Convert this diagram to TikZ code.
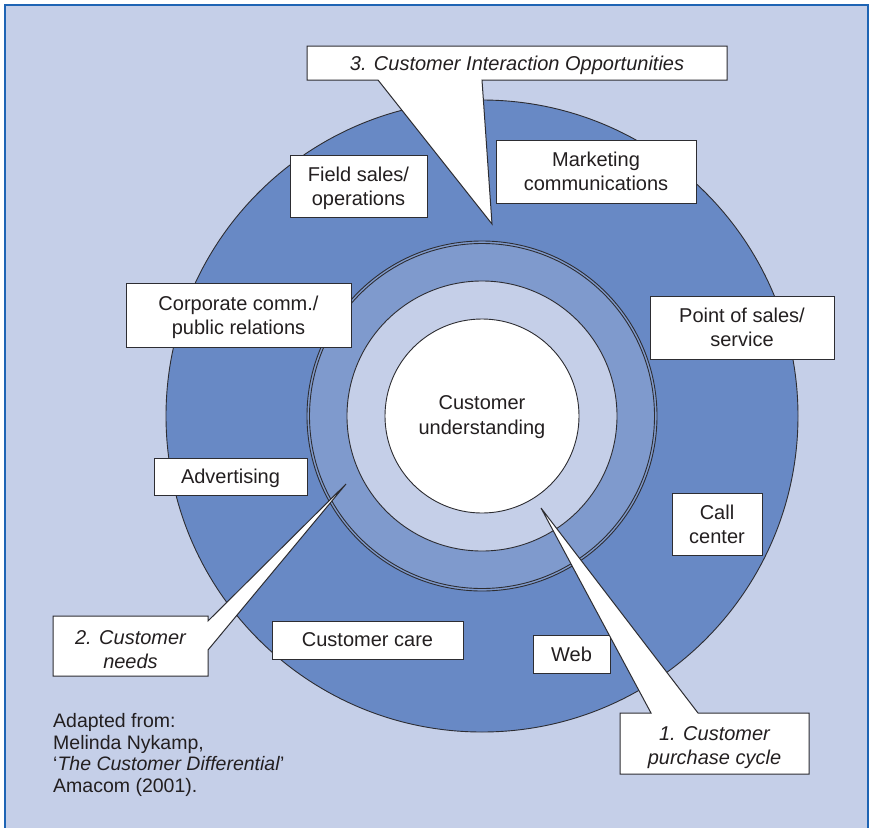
\documentclass[tikz,border=0pt]{standalone}
\usepackage{fontspec}
\setmainfont{Liberation Sans}
\definecolor{bgc}{RGB}{197,207,232}
\definecolor{outerc}{RGB}{104,137,197}
\definecolor{midc}{RGB}{127,154,205}
\definecolor{framec}{RGB}{30,100,180}
\definecolor{linec}{RGB}{45,45,50}
\definecolor{textc}{RGB}{35,31,32}
\tikzset{
  lbl/.style={draw=linec, fill=white, line width=1pt, text=textc, align=center, inner sep=0pt,
    text depth=0pt, font=\fontsize{20}{24}\selectfont},
  cotext/.style={text=textc, align=center, inner sep=0pt, text depth=0pt, font=\fontsize{20}{24}\selectfont\itshape},
  coshape/.style={draw=linec, fill=white, line width=1pt, line join=miter},
  ringline/.style={draw=linec, line width=0.9pt}
}
\begin{document}
\begin{tikzpicture}[x=1pt,y=-1pt]
\useasboundingbox (0,0) rectangle (871,828);
\fill[white] (0,0) rectangle (871,828);
\fill[bgc] (5,5) rectangle (868,845);
\draw[framec, line width=2.5pt] (5,845) -- (5,5) -- (868,5) -- (868,845);
% rings
\coordinate (O) at (482,416);
\draw[ringline, fill=outerc] (O) circle[radius=316pt];
\draw[ringline, fill=midc] (O) circle[radius=175pt];
\draw[ringline] (O) circle[radius=172.5pt];
\draw[ringline, fill=bgc] (O) circle[radius=135pt];
\draw[ringline, fill=white] (O) circle[radius=97pt];
\node[text=textc, align=center, font=\fontsize{20}{25}\selectfont] (cu) at (482,417.5) {Customer\\understanding};
% labels
\node[lbl, minimum width=137pt, minimum height=62pt] (fs) at (358.5,186) {Field sales/\\operations};
\node[lbl, minimum width=200pt, minimum height=63pt] (mc) at (596,171.5) {Marketing\\communications};
\node[lbl, minimum width=225pt, minimum height=64pt] (cc) at (238.5,315) {Corporate comm./\\public relations};
\node[lbl, minimum width=184pt, minimum height=63pt] (ps) at (742,327.5) {Point of sales/\\service};
\node[lbl, minimum width=153pt, minimum height=37pt] (ad) at (230.5,476.5) {Advertising};
\node[lbl, minimum width=90pt, minimum height=62pt] (call) at (717,524) {Call\\center};
\node[lbl, minimum width=77pt, minimum height=38pt] (web) at (571.5,654) {Web};
\node[lbl, minimum width=191pt, minimum height=38pt] (care) at (367.5,640) {Customer care};
% callouts
\coordinate (t3) at (492,224);
\coordinate (t2) at (346,484);
\coordinate (t1) at (541,508);
\draw[coshape] (307,46) -- (727,46) -- (727,80) -- (482,80) -- (t3) -- (378,80) -- (307,80) -- cycle;
\node[cotext] (c3) at (517,63) {3. Customer Interaction Opportunities};
\draw[coshape] (53,616) -- (208,616) -- (208,621) -- (t2) -- (208,650) -- (208,676) -- (53,676) -- cycle;
\node[cotext] (c2) at (130.5,650) {2. Customer\\needs};
\draw[coshape] (620,713) -- (651,713) -- (t1) -- (698,713) -- (809,713) -- (809,774) -- (620,774) -- cycle;
\node[cotext] (c1) at (714.5,746) {1. Customer\\purchase cycle};
% source
\node[anchor=north west, inner sep=0pt, align=left, text=textc, font=\fontsize{19.5}{21.7}\selectfont] (src) at (53,713)
  {Adapted from:\\Melinda Nykamp,\\‘\textit{The Customer Differential}’\\Amacom (2001).};
\end{tikzpicture}
\end{document}
